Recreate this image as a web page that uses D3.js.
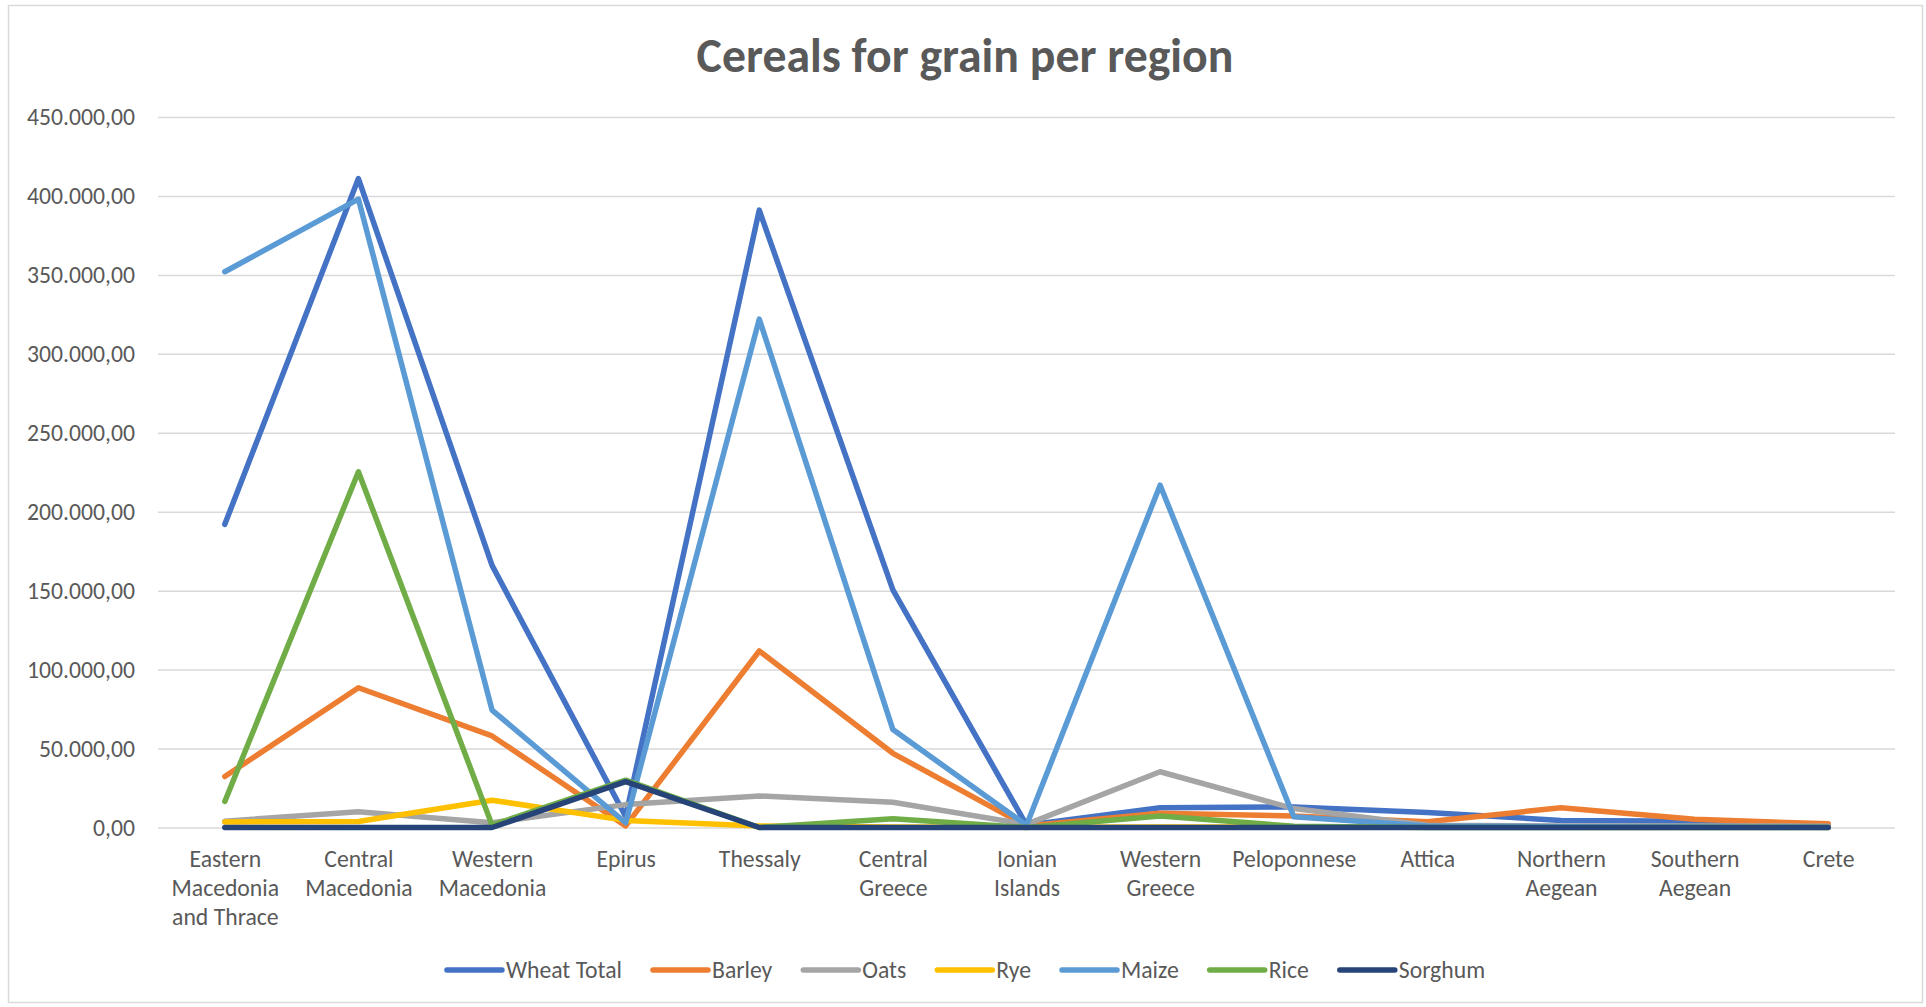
<!DOCTYPE html>
<html>
<head>
<meta charset="utf-8">
<script src="https://cdn.jsdelivr.net/npm/d3@7"></script>
<style>
  html, body { margin: 0; padding: 0; background: #ffffff; }
  svg { display: block; }
</style>
</head>
<body>
<svg id="chart" width="1926" height="1007"></svg>
<script>
// Cereal production for grain, by Greek region
const title = "Cereals for grain per region";

const categories = [
  "Eastern Macedonia and Thrace", "Central Macedonia", "Western Macedonia", "Epirus",
  "Thessaly", "Central Greece", "Ionian Islands", "Western Greece", "Peloponnese",
  "Attica", "Northern Aegean", "Southern Aegean", "Crete"
];

// wrapped category labels, one array of lines per region
const categoryLabels = [
  ["Eastern", "Macedonia", "and Thrace"], ["Central", "Macedonia"], ["Western", "Macedonia"],
  ["Epirus"], ["Thessaly"], ["Central", "Greece"], ["Ionian", "Islands"], ["Western", "Greece"],
  ["Peloponnese"], ["Attica"], ["Northern", "Aegean"], ["Southern", "Aegean"], ["Crete"]
];

const seriesNames = ["Wheat Total", "Barley", "Oats", "Rye", "Maize", "Rice", "Sorghum"];

const wheatTotal = [192000, 411000, 166000, 7000, 391000, 150500, 1500, 12500, 13000, 9500, 4500, 4000, 1500];
const barley     = [32300, 88500, 58000, 1000, 111800, 47000, 1000, 9000, 7300, 3700, 12500, 5200, 2300];
const oats       = [4000, 10000, 3000, 14500, 20000, 16000, 2000, 35300, 12000, 1500, 1000, 1000, 800];
const rye        = [3500, 3800, 17300, 4500, 1000, 300, 200, 300, 300, 200, 200, 200, 100];
const maize      = [352000, 398000, 74400, 3000, 322000, 62000, 1500, 216800, 6800, 1000, 500, 300, 200];
const rice       = [16500, 225300, 1500, 30000, 0, 5600, 0, 7300, 800, 0, 0, 0, 0];
const sorghum    = [0, 0, 0, 29000, 0, 0, 0, 0, 0, 0, 0, 0, 0];

const seriesValues = [wheatTotal, barley, oats, rye, maize, rice, sorghum];
const seriesColors = ["#4472C4", "#ED7D31", "#A5A5A5", "#FFC000", "#5B9BD5", "#70AD47", "#264478"];

const yTicks = [0, 50000, 100000, 150000, 200000, 250000, 300000, 350000, 400000, 450000];

// ---- layout ----
const W = 1926, H = 1007;
const plot = { left: 158, right: 1895, top: 117, bottom: 827.5 };
const textColor = "#595959";
const gridColor = "#D9D9D9";
const fontFamily = "Carlito, Calibri, Lato, 'Open Sans', sans-serif";
const strokeW = 5.5;

const svg = d3.select("#chart");

// size a font so that a sample string spans the wanted width
function fitSize(sample, weight, baseSize, targetWidth) {
  const t = svg.append("text")
    .attr("font-family", fontFamily)
    .attr("font-weight", weight)
    .attr("font-size", baseSize)
    .text(sample);
  const w = t.node().getComputedTextLength();
  t.remove();
  return w > 0 ? baseSize * targetWidth / w : baseSize;
}

const bodySize = fitSize("450.000,00", 400, 23.6, 108);
const titleSize = fitSize(title, 700, 47.5, 537);

// chart frame
svg.append("rect")
  .attr("x", 8.5).attr("y", 5.5)
  .attr("width", 1914).attr("height", 997)
  .attr("fill", "#ffffff")
  .attr("stroke", gridColor)
  .attr("stroke-width", 1.5);

// title
svg.append("text")
  .attr("x", 965).attr("y", 72)
  .attr("text-anchor", "middle")
  .attr("font-family", fontFamily)
  .attr("font-weight", 700)
  .attr("font-size", titleSize)
  .attr("fill", textColor)
  .text(title);

// scales
const x = d3.scalePoint()
  .domain(categories)
  .range([plot.left, plot.right])
  .padding(0.5);

const y = d3.scaleLinear()
  .domain([0, 450000])
  .range([plot.bottom, plot.top]);

const locale = d3.formatLocale({ decimal: ",", thousands: ".", grouping: [3], currency: ["", "€"] });
const fmt = locale.format(",.2f");

// value axis with gridlines
const yAxis = svg.append("g")
  .attr("transform", `translate(${plot.left},0)`)
  .call(d3.axisLeft(y)
    .tickValues(yTicks)
    .tickFormat(fmt)
    .tickSize(-(plot.right - plot.left))
    .tickPadding(23));

yAxis.select(".domain").remove();
yAxis.selectAll(".tick line")
  .attr("stroke", gridColor)
  .attr("stroke-width", 1.5);
yAxis.selectAll(".tick text")
  .attr("font-family", fontFamily)
  .attr("font-size", bodySize)
  .attr("fill", textColor);

// category axis labels
const xAxis = svg.append("g")
  .attr("transform", `translate(0,${plot.bottom})`)
  .call(d3.axisBottom(x).tickSize(0).tickFormat(""));
xAxis.select(".domain").remove();

xAxis.selectAll(".tick").each(function (d, i) {
  const t = d3.select(this).append("text")
    .attr("text-anchor", "middle")
    .attr("font-family", fontFamily)
    .attr("font-size", bodySize)
    .attr("fill", textColor)
    .attr("y", 39);
  categoryLabels[i].forEach((line, k) => {
    t.append("tspan").attr("x", 0).attr("dy", k === 0 ? 0 : 29).text(line);
  });
});

// series lines
const line = d3.line()
  .x((d, i) => x(categories[i]))
  .y(d => y(d));

svg.append("g")
  .selectAll("path")
  .data(seriesValues)
  .join("path")
  .attr("d", d => line(d))
  .attr("fill", "none")
  .attr("stroke", (d, i) => seriesColors[i])
  .attr("stroke-width", strokeW)
  .attr("stroke-linejoin", "round")
  .attr("stroke-linecap", "round");

// legend
const legend = svg.append("g");
const swatch = 55, swatchGap = 4, itemGap = 31, legendY = 970;
const items = seriesNames.map((name, i) => {
  const g = legend.append("g");
  g.append("line")
    .attr("x1", 0).attr("x2", swatch)
    .attr("y1", legendY).attr("y2", legendY)
    .attr("stroke", seriesColors[i])
    .attr("stroke-width", strokeW)
    .attr("stroke-linecap", "round");
  const t = g.append("text")
    .attr("x", swatch + swatchGap)
    .attr("y", legendY)
    .attr("dy", "0.35em")
    .attr("font-family", fontFamily)
    .attr("font-size", bodySize)
    .attr("fill", textColor)
    .text(name);
  return { g, w: swatch + swatchGap + t.node().getComputedTextLength() };
});
const total = d3.sum(items, d => d.w) + itemGap * (items.length - 1);
let cx = 966 - total / 2;
items.forEach(it => {
  it.g.attr("transform", `translate(${cx},0)`);
  cx += it.w + itemGap;
});
</script>
</body>
</html>
